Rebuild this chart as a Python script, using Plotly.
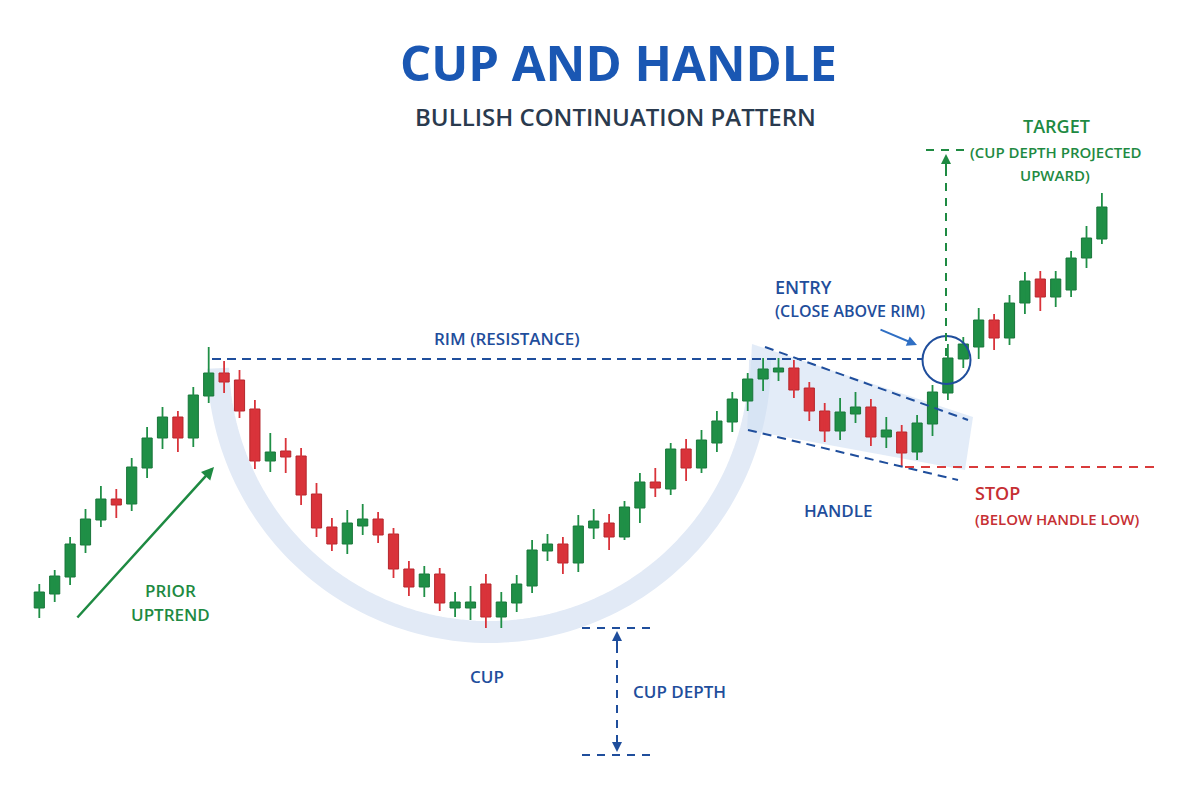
import numpy as np
import plotly.graph_objects as go

# ---------------- data (price units) ----------------
opens = [98, 101.5, 105.75, 113.75, 120, 125.25, 124, 133, 140.5, 145.75,
         140.5, 151, 156.75, 155, 147.75, 134.75, 137.25, 136, 126.5, 118.25,
         114, 118.5, 120.25, 116.5, 107.75, 103.25, 106.5, 98, 98, 104,
         95.75, 99.25, 103.5, 112.25, 114, 109.25, 118, 119.25, 115.75, 123,
         129.5, 127.75, 137.75, 133, 139.25, 144.5, 149.75, 155.25, 157, 158,
         153, 147.25, 142.25, 146.5, 148.25, 140.75, 142, 137, 144, 151.75,
         160.25, 163.25, 170, 165.5, 174.25, 180.25, 175.75, 177.5, 185.5, 190.25]
highs = [104, 107.5, 115.75, 122.75, 128.5, 127.75, 135.5, 143.25, 148.25, 147.25,
         153.25, 163.25, 159.75, 157.5, 150, 141.75, 140.5, 138, 129.25, 120.5,
         122.5, 124, 122, 118, 109.75, 108.5, 108, 102, 103.5, 106.5,
         102, 106.25, 115, 116.5, 115.75, 121.25, 122.75, 121.5, 124.75, 131.75,
         133, 139.25, 140.25, 142.5, 147.25, 152, 156.75, 160.5, 160.5, 160,
         154.5, 149.25, 150.5, 152, 150.25, 145.75, 143.75, 146.25, 153.75, 164,
         165.75, 173, 171.5, 176.25, 182, 182.25, 182.25, 187.25, 193.5, 201.75]
lows = [95.5, 99.5, 103.75, 111.75, 118.25, 120.5, 122.25, 130.5, 137.75, 137,
        138.25, 149.25, 151.75, 145.5, 132.75, 132, 131.75, 123.75, 115.75, 112.25,
        111.5, 116.25, 114.25, 105.5, 101, 100.75, 97.25, 95.75, 95, 93,
        93, 97, 101.75, 109.75, 106.5, 107, 115.25, 112.5, 115, 119.25,
        125.75, 126.25, 129.75, 131.75, 137, 142, 147.25, 152.25, 154.75, 150.5,
        144.75, 139.5, 140, 144.25, 138.5, 138, 133.5, 135, 141, 150,
        158, 160.25, 162.5, 163.75, 171.5, 172.25, 173.25, 175.75, 183, 189]
closes = [102, 106, 114, 120.25, 125.25, 123.75, 133.25, 140.5, 145.75, 140.5,
          151.25, 156.75, 154.5, 147.25, 134.75, 137, 135.75, 126.25, 118, 114,
          119.25, 120.25, 116.25, 107.75, 103.25, 106.5, 99.25, 99.5, 99.5, 95.75,
          99.5, 104, 112.5, 114, 109.25, 118.5, 119.75, 115.75, 123.25, 129.5,
          128, 137.75, 133, 140, 144.75, 150.25, 155.25, 157.75, 158, 152.5,
          147.25, 142.25, 147, 148.25, 140.75, 142.5, 136.75, 144.25, 152, 160.5,
          164, 170, 165.5, 174.25, 179.75, 175.75, 180.25, 185.5, 190.5, 198.25]
days = list(range(len(opens)))

RIM_PRICE = 160.25
STOP_PRICE = 133.25

GREEN = "#1f8f46"
GREEN_EDGE = "#18763a"
RED = "#d9333a"
RED_EDGE = "#b5262c"
NAVY = "#1f4e9c"
TXT_GREEN = "#1e8a42"
TXT_RED = "#c62f33"

# ---------------- pixel <-> data helpers (layout only) ----------------
X0, DX = 39.3, 15.4
def X(p):
    return (p - X0) / DX
def Y(p):
    return 250 - p / 4.0

PAGE_OFF = 8  # page body margin offset

fig = go.Figure()

# ---------------- candles ----------------
up = [i for i in days if closes[i] >= opens[i]]
dn = [i for i in days if closes[i] < opens[i]]

def wick_xy(idx):
    xs, ys = [], []
    for i in idx:
        xs += [i, i, None]
        ys += [lows[i], highs[i], None]
    return xs, ys

for idx, col, edge in [(up, GREEN, GREEN_EDGE), (dn, RED, RED_EDGE)]:
    wx, wy = wick_xy(idx)
    fig.add_trace(go.Scatter(x=wx, y=wy, mode="lines",
                             line=dict(color=col, width=1.8),
                             hoverinfo="skip", showlegend=False))
    fig.add_trace(go.Bar(x=idx,
                         y=[max(abs(closes[i] - opens[i]), 0.6) for i in idx],
                         base=[min(opens[i], closes[i]) for i in idx],
                         width=0.66,
                         marker=dict(color=col, line=dict(color=edge, width=1)),
                         hoverinfo="skip", showlegend=False))

# ---------------- decorations ----------------
shapes = []
# cup arc
t = np.linspace(0.03, np.pi, 120)
ax_ = 489 - 271 * np.cos(t)
ay_ = 360 + 272 * np.sin(t)
path = "M " + " L ".join(f"{X(a):.4f},{Y(b):.4f}" for a, b in zip(ax_, ay_))
shapes.append(dict(type="path", path=path, xref="x", yref="y", layer="below",
                   line=dict(color="#e2eaf6", width=22)))
# handle channel fill
poly = [(752, 344), (973, 417), (965, 470), (747, 430)]
p2 = "M " + " L ".join(f"{X(a):.4f},{Y(b):.4f}" for a, b in poly) + " Z"
shapes.append(dict(type="path", path=p2, xref="x", yref="y", layer="below",
                   fillcolor="rgba(208,224,244,0.6)", line=dict(width=0)))
# channel dashed lines
shapes.append(dict(type="line", xref="x", yref="y", x0=X(765), y0=Y(347), x1=X(968), y1=Y(420),
                   line=dict(color=NAVY, width=2, dash="9px,6px")))
shapes.append(dict(type="line", xref="x", yref="y", x0=X(748), y0=Y(430), x1=X(958), y1=Y(480),
                   line=dict(color=NAVY, width=2, dash="9px,6px")))
# rim
shapes.append(dict(type="line", xref="x", yref="y", x0=X(212), y0=RIM_PRICE, x1=X(922), y1=RIM_PRICE,
                   line=dict(color=NAVY, width=2, dash="9px,6px")))
# entry circle
shapes.append(dict(type="circle", xref="x", yref="y", x0=X(922.5), x1=X(970.5), y0=Y(384), y1=Y(336),
                   line=dict(color=NAVY, width=2)))
# target lines
shapes.append(dict(type="line", xref="x", yref="y", x0=X(946), y0=Y(356), x1=X(946), y1=Y(165),
                   line=dict(color=TXT_GREEN, width=2, dash="8px,7px")))
shapes.append(dict(type="line", xref="x", yref="y", x0=X(926), y0=Y(150), x1=X(967), y1=Y(150),
                   line=dict(color=TXT_GREEN, width=2, dash="8px,7px")))
# stop line
shapes.append(dict(type="line", xref="x", yref="y", x0=X(905), y0=STOP_PRICE, x1=X(1156), y1=STOP_PRICE,
                   line=dict(color="#d93b3b", width=2, dash="9px,7px")))
# cup depth
for yy in (628, 755):
    shapes.append(dict(type="line", xref="x", yref="y", x0=X(582), y0=Y(yy), x1=X(653), y1=Y(yy),
                       line=dict(color=NAVY, width=2, dash="8px,7px")))
shapes.append(dict(type="line", xref="x", yref="y", x0=X(617), y0=Y(645), x1=X(617), y1=Y(738),
                   line=dict(color=NAVY, width=2, dash="8px,7px")))

anns = []
def arrow(hx, hy, tx, ty, col, w=2):
    anns.append(dict(x=X(hx), y=Y(hy), ax=X(tx), ay=Y(ty), xref="x", yref="y",
                     axref="x", ayref="y", text="", showarrow=True, arrowhead=2,
                     arrowsize=1, arrowwidth=w, arrowcolor=col, standoff=0))

arrow(214, 467, 76, 619, TXT_GREEN, 2.5)
arrow(917, 345, 879, 329, "#2f6fc4", 2)
arrow(946, 154, 946, 172, TXT_GREEN, 2)
arrow(617, 631, 617, 648, NAVY, 2)
arrow(617, 752, 617, 735, NAVY, 2)

FONT = "Open Sans, Roboto, sans-serif"
def label(txt, px, py, size, col, weight=600, anchor="center"):
    anns.append(dict(x=X(px), y=Y(py), xref="x", yref="y", text=txt, showarrow=False,
                     xanchor=anchor, yanchor="middle",
                     font=dict(family=FONT, size=size, color=col, weight=weight)))

label("CUP AND HANDLE", 618, 62, 49, "#1a57b3", 700)
label("BULLISH CONTINUATION PATTERN", 615, 116, 24, "#2a3a4e", 600)
label("RIM (RESISTANCE)", 507, 338, 17, NAVY)
label("PRIOR", 170, 590, 17, TXT_GREEN)
label("UPTREND", 170, 614, 17, TXT_GREEN)
label("CUP", 487, 676, 17, NAVY)
label("CUP DEPTH", 631, 691, 17, NAVY, anchor="left")
label("HANDLE", 838, 510, 17, NAVY)
label("STOP", 973, 493, 18, TXT_RED, anchor="left")
label("(BELOW HANDLE LOW)", 973, 519, 15, TXT_RED, anchor="left")
label("ENTRY", 773, 287, 18, NAVY, anchor="left")
label("(CLOSE ABOVE RIM)", 773, 311, 16, NAVY, anchor="left")
label("TARGET", 1056, 126, 18, TXT_GREEN)
label("(CUP DEPTH PROJECTED", 1056, 152, 15, TXT_GREEN)
label("UPWARD)", 1055, 175, 15, TXT_GREEN)

fig.update_layout(
    width=1200, height=800,
    margin=dict(l=0, r=0, t=0, b=0),
    paper_bgcolor="white", plot_bgcolor="white",
    showlegend=False, barmode="overlay",
    xaxis=dict(range=[X(PAGE_OFF), X(1200 + PAGE_OFF)], visible=False, fixedrange=True),
    yaxis=dict(range=[Y(800 + PAGE_OFF), Y(PAGE_OFF)], visible=False, fixedrange=True),
    shapes=shapes, annotations=anns,
)

fig.write_html("out.html")
